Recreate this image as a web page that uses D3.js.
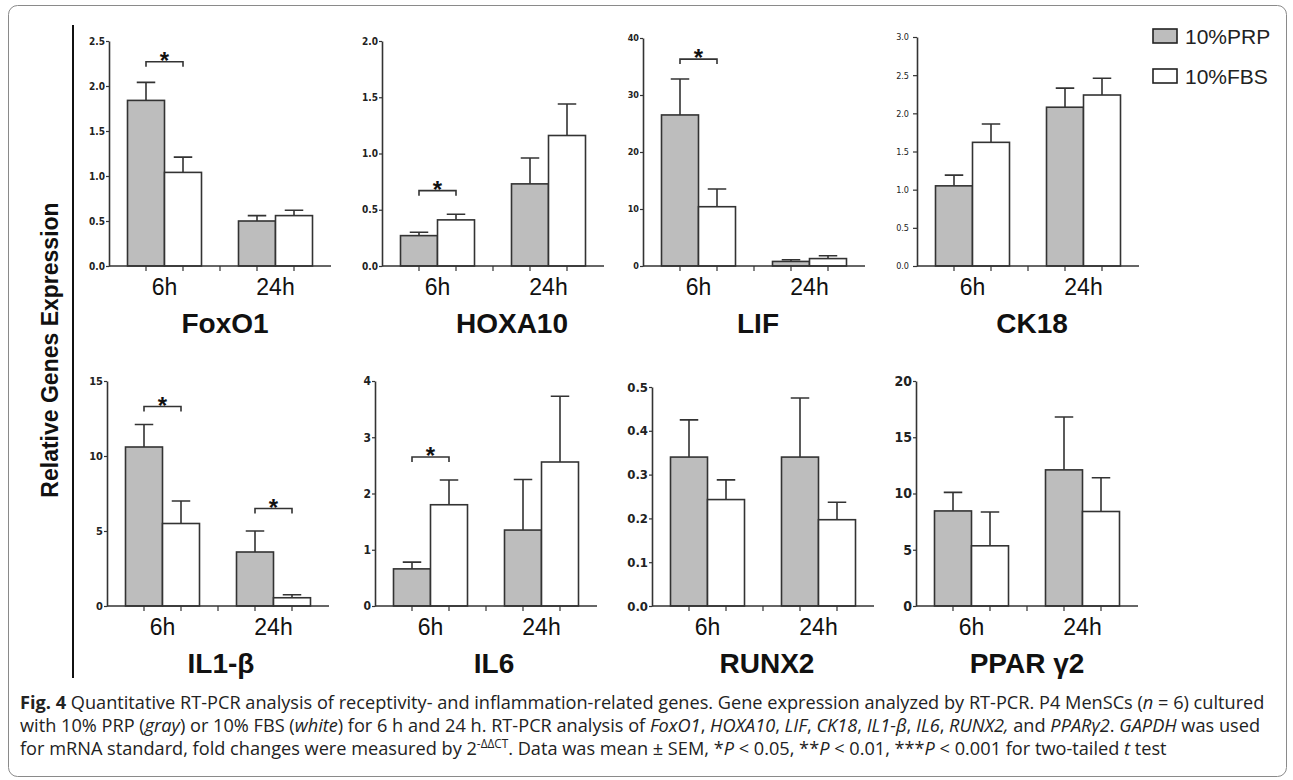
<!DOCTYPE html>
<html>
<head>
<meta charset="utf-8">
<script src="https://cdn.jsdelivr.net/npm/d3@7"></script>
<style>
  body { margin: 0; background: #fff; }
  svg { display: block; }
</style>
</head>
<body>
<svg id="chart"></svg>
<script>
// values (mean, and mean+SEM minus mean)
var genes = ["FoxO1", "HOXA10", "LIF", "CK18", "IL1-β", "IL6", "RUNX2", "PPAR γ2"];
var times = ["6h", "24h"];
var groups = ["10%PRP", "10%FBS"];

var prpMean = [[1.84, 0.50], [0.27, 0.73], [26.5, 0.8], [1.05, 2.08], [10.6, 3.6], [0.66, 1.35], [0.34, 0.34], [8.45, 12.1]];
var prpSem  = [[0.20, 0.06], [0.03, 0.23], [6.3, 0.3], [0.14, 0.25], [1.5, 1.4], [0.12, 0.90], [0.085, 0.135], [1.65, 4.7]];
var fbsMean = [[1.04, 0.56], [0.41, 1.16], [10.4, 1.3], [1.62, 2.24], [5.5, 0.55], [1.80, 2.56], [0.243, 0.197], [5.35, 8.4]];
var fbsSem  = [[0.17, 0.06], [0.05, 0.28], [3.1, 0.5], [0.24, 0.22], [1.5, 0.2], [0.44, 1.17], [0.045, 0.04], [3.0, 3.0]];

var yMax  = [2.5, 2.0, 40, 3.0, 15, 4, 0.5, 20];
var yStep = [0.5, 0.5, 10, 0.5, 5, 1, 0.1, 5];

// significance brackets: panel, time, bracket height (data units)
var sigPanel = [0, 1, 2, 4, 4, 5];
var sigTime  = ["6h", "6h", "6h", "6h", "24h", "6h"];
var sigLevel = [2.27, 0.67, 36.3, 13.3, 6.5, 2.65];

// page layout of each panel
var layout = [
  {ax: 109, top: 41, zero: 266, tick: 10, bold: true,  tx: 5},
  {ax: 382, top: 41, zero: 266, tick: 10, bold: true,  tx: 19},
  {ax: 643, top: 38, zero: 266, tick: 9,  bold: true,  tx: 4},
  {ax: 917, top: 37, zero: 266, tick: 9,  bold: false, tx: 4},
  {ax: 107, top: 381, zero: 606, tick: 11, bold: true, tx: 3},
  {ax: 375, top: 381, zero: 606, tick: 12, bold: true, tx: 8},
  {ax: 652, top: 387, zero: 606, tick: 13, bold: true, tx: 4},
  {ax: 916, top: 381, zero: 606, tick: 14, bold: true, tx: 0}
];

var w = 1293, h = 780;
var ink = "#333";
var colors = {"10%PRP": "#bdbdbd", "10%FBS": "#ffffff"};

var svg = d3.select("#chart")
    .attr("width", w)
    .attr("height", h)
    .attr("font-family", "'Liberation Sans', Arial, sans-serif");

// frame
svg.append("rect")
    .attr("x", 8.5).attr("y", 5.5)
    .attr("width", 1278).attr("height", 771)
    .attr("rx", 9)
    .attr("fill", "none")
    .attr("stroke", "#8a8a8a")
    .attr("stroke-width", 1);

// left rule + y title
svg.append("line")
    .attr("x1", 73).attr("x2", 73)
    .attr("y1", 25).attr("y2", 678)
    .attr("stroke", "#111").attr("stroke-width", 2);

svg.append("text")
    .attr("transform", "translate(58,350) rotate(-90)")
    .attr("text-anchor", "middle")
    .attr("font-size", 23)
    .attr("font-weight", "bold")
    .attr("fill", "#111")
    .text("Relative Genes Expression");

genes.forEach(function(gene, i) {
  var L = layout[i];
  var g = svg.append("g");

  var x0 = d3.scaleBand()
      .domain(times)
      .range([L.ax, L.ax + 222])
      .paddingInner(1 / 3)
      .paddingOuter(1 / 6);
  var x1 = d3.scaleBand()
      .domain(groups)
      .range([0, x0.bandwidth()]);
  var y = d3.scaleLinear()
      .domain([0, yMax[i]])
      .range([L.zero, L.top]);

  var fmt = yStep[i] < 1 ? d3.format(".1f") : d3.format("d");
  var yAxis = d3.axisLeft(y)
      .tickValues(d3.range(0, yMax[i] + yStep[i] / 2, yStep[i]))
      .tickSize(L.bold ? 3 : 4)
      .tickSizeOuter(0)
      .tickPadding(L.bold ? 1 : 4)
      .tickFormat(fmt);

  var ya = g.append("g")
      .attr("transform", "translate(" + L.ax + ",0)")
      .call(yAxis);
  ya.select(".domain").attr("stroke", ink).attr("stroke-width", 1.6);
  ya.selectAll(".tick line").attr("stroke", ink).attr("stroke-width", 1.2);
  ya.selectAll(".tick text")
      .attr("font-family", "'Liberation Sans Narrow', 'Arial Narrow', 'DejaVu Sans Condensed', sans-serif")
      .attr("font-size", L.tick)
      .attr("font-weight", L.bold ? "bold" : "normal")
      .attr("fill", "#222");

  // rows of bars
  var rows = [];
  times.forEach(function(t, j) {
    rows.push({t: t, grp: groups[0], m: prpMean[i][j], e: prpSem[i][j]});
    rows.push({t: t, grp: groups[1], m: fbsMean[i][j], e: fbsSem[i][j]});
  });

  var cx = function(d) { return x0(d.t) + x1(d.grp) + x1.bandwidth() / 2; };

  // error bars (upper only)
  g.selectAll(".err")
      .data(rows)
      .enter()
      .append("path")
      .attr("d", function(d) {
        var c = cx(d), q = x1.bandwidth() / 4;
        return "M" + c + "," + y(d.m) + "V" + y(d.m + d.e) + "M" + (c - q) + "," + y(d.m + d.e) + "H" + (c + q);
      })
      .attr("fill", "none")
      .attr("stroke", ink)
      .attr("stroke-width", 1.6);

  g.selectAll(".bar")
      .data(rows)
      .enter()
      .append("rect")
      .attr("x", function(d) { return x0(d.t) + x1(d.grp); })
      .attr("y", function(d) { return y(d.m); })
      .attr("width", x1.bandwidth())
      .attr("height", function(d) { return y(0) - y(d.m); })
      .attr("fill", function(d) { return colors[d.grp]; })
      .attr("stroke", ink)
      .attr("stroke-width", 1.6);

  // x axis with ticks at bar centres and between groups
  g.append("line")
      .attr("x1", L.ax).attr("x2", L.ax + 222)
      .attr("y1", y(0)).attr("y2", y(0))
      .attr("stroke", ink).attr("stroke-width", 1.6);
  var tx = rows.map(cx);
  tx.push((x0(times[0]) + x0.bandwidth() + x0(times[1])) / 2);
  g.selectAll(".xt")
      .data(tx)
      .enter()
      .append("line")
      .attr("x1", function(d) { return d; })
      .attr("x2", function(d) { return d; })
      .attr("y1", y(0)).attr("y2", y(0) + 5)
      .attr("stroke", ink).attr("stroke-width", 1.2);

  g.selectAll(".xl")
      .data(times)
      .enter()
      .append("text")
      .attr("x", function(d) { return x0(d) + x0.bandwidth() / 2; })
      .attr("y", y(0) + 29)
      .attr("text-anchor", "middle")
      .attr("font-size", 23)
      .attr("fill", "#111")
      .text(function(d) { return d; });

  g.append("text")
      .attr("x", L.ax + 111 + L.tx)
      .attr("y", y(0) + 67)
      .attr("text-anchor", "middle")
      .attr("font-size", 28)
      .attr("font-weight", "bold")
      .attr("fill", "#111")
      .text(gene);

  // significance
  sigPanel.forEach(function(p, k) {
    if (p !== i) return;
    var t = sigTime[k];
    var a = x0(t) + x1.bandwidth() / 2;
    var b = x0(t) + x1.bandwidth() * 1.5;
    var yy = y(sigLevel[k]);
    g.append("path")
        .attr("d", "M" + a + "," + (yy + 5) + "V" + yy + "H" + b + "V" + (yy + 5))
        .attr("fill", "none")
        .attr("stroke", ink)
        .attr("stroke-width", 1.6);
    g.append("text")
        .attr("x", (a + b) / 2)
        .attr("y", yy + 7)
        .attr("text-anchor", "middle")
        .attr("font-size", 24)
        .attr("font-weight", "bold")
        .attr("fill", "#111")
        .text("*");
  });
});

// legend
var leg = svg.append("g");
groups.forEach(function(grp, k) {
  leg.append("rect")
      .attr("x", 1153).attr("y", 29 + k * 40)
      .attr("width", 24).attr("height", 14)
      .attr("fill", colors[grp])
      .attr("stroke", "#222").attr("stroke-width", 1.6);
  leg.append("text")
      .attr("x", 1185).attr("y", 44 + k * 40)
      .attr("font-size", 21)
      .attr("fill", "#222")
      .text(grp);
});

// caption
var caption = [
  [["Fig. 4", "b"], [" Quantitative RT-PCR analysis of receptivity- and inflammation-related genes. Gene expression analyzed by RT-PCR. P4 MenSCs (", ""], ["n", "i"], [" = 6) cultured", ""]],
  [["with 10% PRP (", ""], ["gray", "i"], [") or 10% FBS (", ""], ["white", "i"], [") for 6 h and 24 h. RT-PCR analysis of ", ""], ["FoxO1", "i"], [", ", ""], ["HOXA10", "i"], [", ", ""], ["LIF", "i"], [", ", ""], ["CK18", "i"], [", ", ""], ["IL1-β", "i"], [", ", ""], ["IL6", "i"], [", ", ""], ["RUNX2,", "i"], [" and ", ""], ["PPARγ2", "i"], [". ", ""], ["GAPDH", "i"], [" was used", ""]],
  [["for mRNA standard, fold changes were measured by 2", ""], ["-ΔΔCT", "s"], [". Data was mean ± SEM, *", ""], ["P", "i"], [" < 0.05, **", ""], ["P", "i"], [" < 0.01, ***", ""], ["P", "i"], [" < 0.001 for two-tailed ", ""], ["t", "i"], [" test", ""]]
];

var capG = svg.append("g")
    .attr("font-family", "'Open Sans', 'Noto Sans', sans-serif")
    .attr("font-size", 18.5)
    .attr("fill", "#222");

var lines = caption.map(function(segs) {
  var t = capG.append("text").attr("y", 0);
  segs.forEach(function(s, idx) {
    var sp = t.append("tspan").text(s[0]);
    if (s[1] === "b") sp.attr("font-weight", "bold");
    if (s[1] === "i") sp.attr("font-style", "italic");
    if (s[1] === "s") sp.attr("font-size", 12).attr("dy", -7);
    if (idx > 0 && segs[idx - 1][1] === "s") sp.attr("dy", 7);
  });
  return t;
});

// condensed like the journal face: squeeze line 1 to the text width
var natural = lines[0].node().getComputedTextLength();
var sx = (1265 - 20) / natural;
lines.forEach(function(t, k) {
  t.attr("transform", "translate(20," + (709 + k * 23) + ") scale(" + sx + ",1)");
});
</script>
</body>
</html>
